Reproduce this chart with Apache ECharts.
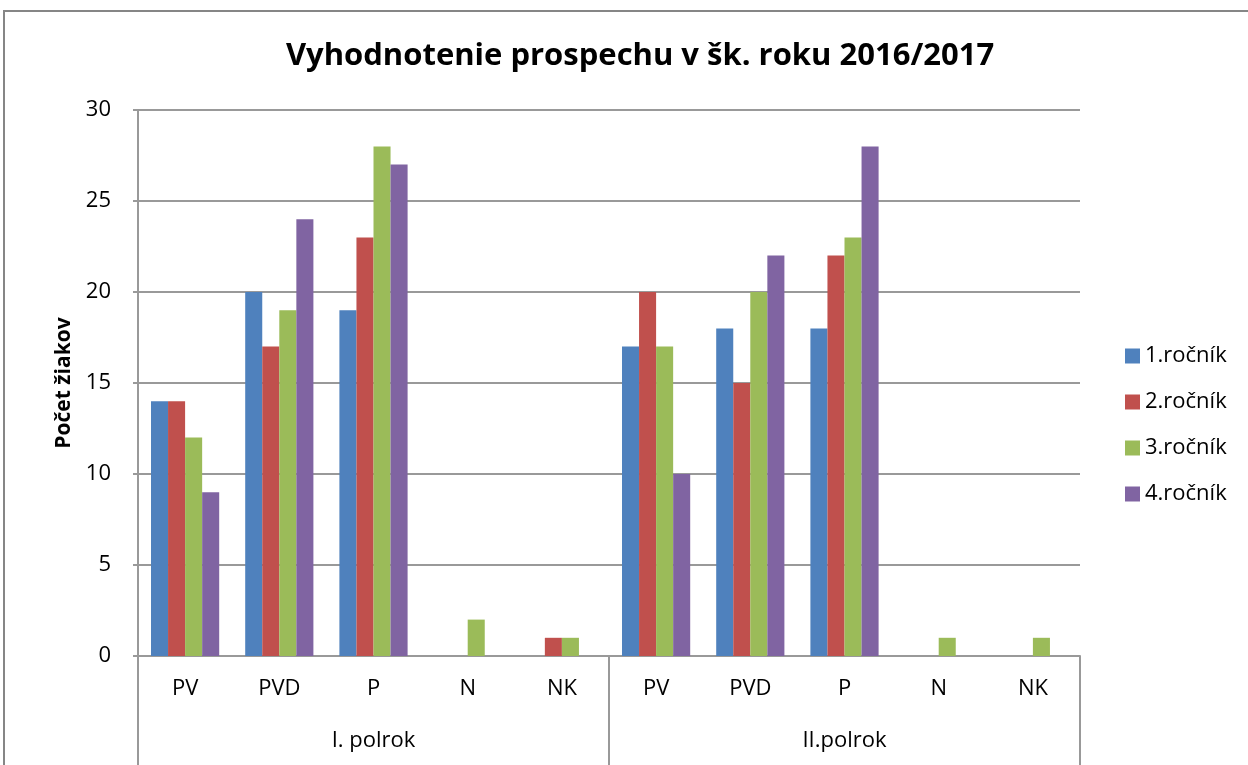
<!DOCTYPE html>
<html>
<head>
<meta charset="utf-8">
<script src="https://cdn.jsdelivr.net/npm/echarts@6/dist/echarts.min.js"></script>
<style>
html,body{margin:0;padding:0;background:#fff;}
#chart{width:1248px;height:765px;}
</style>
</head>
<body>
<div id="chart"></div>
<script>
const categories = ['PV','PVD','P','N','NK','PV','PVD','P','N','NK'];
const groups = ['I. polrok','II.polrok'];
const seriesNames = ['1.ročník','2.ročník','3.ročník','4.ročník'];
const rocnik1 = [14,20,19,0,0,17,18,18,0,0];
const rocnik2 = [14,17,23,0,1,20,15,22,0,0];
const rocnik3 = [12,19,28,2,1,17,20,23,1,1];
const rocnik4 = [9,24,27,0,0,10,22,28,0,0];
const colors = ['#4F81BD','#C0504D','#9BBB59','#8064A2'];
const yTicks = {min:0, max:30, interval:5};

const FONT = '"Open Sans", "Noto Sans", sans-serif';
const chart = echarts.init(document.getElementById('chart'));
const values = [rocnik1, rocnik2, rocnik3, rocnik4];
const gridBox = {left:138, right:168, top:110, bottom:109};

chart.setOption({
  animation:false,
  textStyle:{fontFamily:FONT},
  title:{
    text:'Vyhodnotenie prospechu v šk. roku 2016/2017',
    left:635, textAlign:'center', top:36,
    textStyle:{fontSize:31, fontWeight:'bold', color:'#000', fontFamily:FONT}
  },
  legend:{
    orient:'vertical', left:1120, top:340,
    itemWidth:15, itemHeight:15, itemGap:24, icon:'rect',
    textStyle:{fontSize:22, color:'#000', fontFamily:FONT, padding:[0,0,0,0]},
    data:seriesNames
  },
  graphic:[{
    type:'rect', silent:true,
    shape:{x:4, y:11, width:1400, height:900},
    style:{fill:'none', stroke:'#868686', lineWidth:2}
  }],
  grid:[Object.assign({}, gridBox), Object.assign({}, gridBox)],
  xAxis:[{
    type:'category', gridIndex:0, data:categories,
    axisLine:{show:true, lineStyle:{color:'#999', width:2}},
    axisTick:{show:false},
    axisLabel:{fontSize:22, color:'#000', margin:22, interval:0, fontFamily:FONT}
  },{
    type:'category', gridIndex:1, data:groups, position:'bottom',
    axisLine:{show:false},
    axisTick:{show:true, length:110, lineStyle:{color:'#999', width:2}},
    axisLabel:{fontSize:22, color:'#000', margin:74, fontFamily:FONT},
    splitLine:{show:false}
  }],
  yAxis:[{
    type:'value', gridIndex:0, min:yTicks.min, max:yTicks.max, interval:yTicks.interval,
    name:'Počet žiakov', nameLocation:'middle', nameGap:63, nameRotate:90,
    nameTextStyle:{fontSize:21, fontWeight:'bold', color:'#000', fontFamily:FONT},
    axisLine:{show:true, lineStyle:{color:'#999', width:2}},
    axisTick:{show:true, length:5, lineStyle:{color:'#999', width:2}},
    axisLabel:{fontSize:22, color:'#000', margin:27, fontFamily:FONT},
    splitLine:{show:true, lineStyle:{color:'#999', width:2}}
  },{
    type:'value', gridIndex:1, show:false, min:0, max:30
  }],
  series: seriesNames.map((n,i)=>({
    name:n, type:'bar', xAxisIndex:0, yAxisIndex:0,
    data:values[i], barGap:'0%', barCategoryGap:'27.6%',
    itemStyle:{color:colors[i]}
  }))
});
</script>
</body>
</html>
